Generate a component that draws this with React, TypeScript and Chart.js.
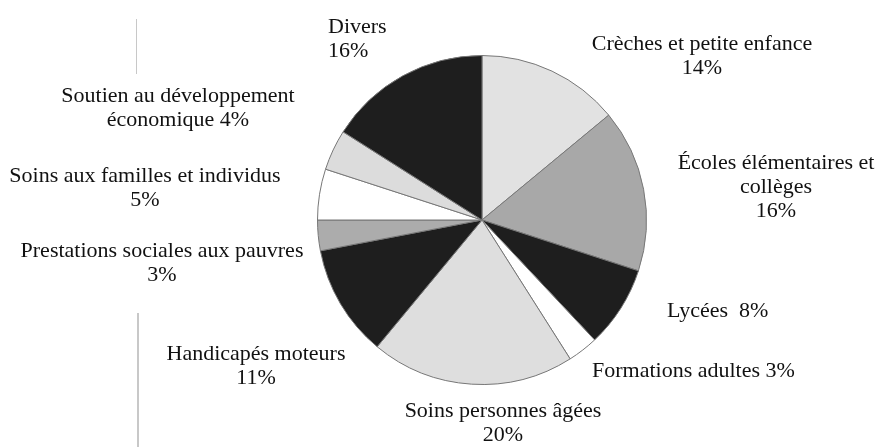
import React, { useEffect, useRef } from "react";
import { Chart, registerables } from "chart.js";

Chart.register(...registerables);

// ---- Data ----
const categories: string[] = [
  "Crèches et petite enfance",
  "Écoles élémentaires et collèges",
  "Lycées",
  "Formations adultes",
  "Soins personnes âgées",
  "Handicapés moteurs",
  "Prestations sociales aux pauvres",
  "Soins aux familles et individus",
  "Soutien au développement économique",
  "Divers",
];
const shares: number[] = [14, 16, 8, 3, 20, 11, 3, 5, 4, 16];

// label text as printed (lines)
const labelTexts: string[][] = [
  ["Crèches et petite enfance", "14%"],
  ["Écoles élémentaires et", "collèges", "16%"],
  ["Lycées  8%"],
  ["Formations adultes 3%"],
  ["Soins personnes âgées", "20%"],
  ["Handicapés moteurs", "11%"],
  ["Prestations sociales aux pauvres", "3%"],
  ["Soins aux familles et individus", "5%"],
  ["Soutien au développement", "économique 4%"],
  ["Divers", "16%"],
];

// ---- Styles / layout ----
const sliceColors = [
  "#e2e2e2",
  "#a8a8a8",
  "#1e1e1e",
  "#ffffff",
  "#dedede",
  "#1e1e1e",
  "#acacac",
  "#ffffff",
  "#dcdcdc",
  "#1e1e1e",
];
// [x, firstBaseline, align]
const labelLayout: [number, number, CanvasTextAlign][] = [
  [702, 50, "center"],
  [776, 169, "center"],
  [667, 317, "left"],
  [592, 377, "left"],
  [503, 417, "center"],
  [256, 360, "center"],
  [162, 257, "center"],
  [145, 182, "center"],
  [178, 102, "center"],
  [328, 33, "left"],
];
const LINE_H = 24;

const labelPlugin = {
  id: "outsideLabels",
  afterDraw(chart: any) {
    const ctx = chart.ctx as CanvasRenderingContext2D;
    ctx.save();
    ctx.fillStyle = "#111";
    ctx.font = '22px "Liberation Serif", "Times New Roman", serif';
    ctx.textBaseline = "alphabetic";
    labelTexts.forEach((lines, i) => {
      const [x, y, align] = labelLayout[i];
      ctx.textAlign = align;
      lines.forEach((ln, j) => ctx.fillText(ln, x, y + j * LINE_H));
    });
    ctx.restore();
  },
};

export default function App() {
  const ref = useRef<HTMLCanvasElement | null>(null);
  useEffect(() => {
    document.body.style.margin = "0";
    const chart = new Chart(ref.current as HTMLCanvasElement, {
      type: "pie",
      data: {
        labels: categories,
        datasets: [
          {
            data: shares,
            backgroundColor: sliceColors,
            borderColor: "#777",
            borderWidth: 1,
            hoverOffset: 0,
            offset: 0,
          },
        ],
      },
      options: {
        responsive: false,
        animation: false,
        events: [],
        rotation: 0,
        layout: { padding: { left: 317, right: 231, top: 55, bottom: 62 } },
        plugins: {
          legend: { display: false },
          tooltip: { enabled: false },
        },
      },
      plugins: [labelPlugin],
    });
    return () => chart.destroy();
  }, []);
  return (
    <div style={{ position: "relative", width: 878, height: 447, background: "#fff" }}>
      <canvas ref={ref} width={878} height={447} style={{ display: "block" }} />
      <div style={{ position: "absolute", left: 136, top: 19, width: 1, height: 55, background: "#c8c8c8" }} />
      <div style={{ position: "absolute", left: 137, top: 313, width: 2, height: 134, background: "#c8c8c8" }} />
    </div>
  );
}
